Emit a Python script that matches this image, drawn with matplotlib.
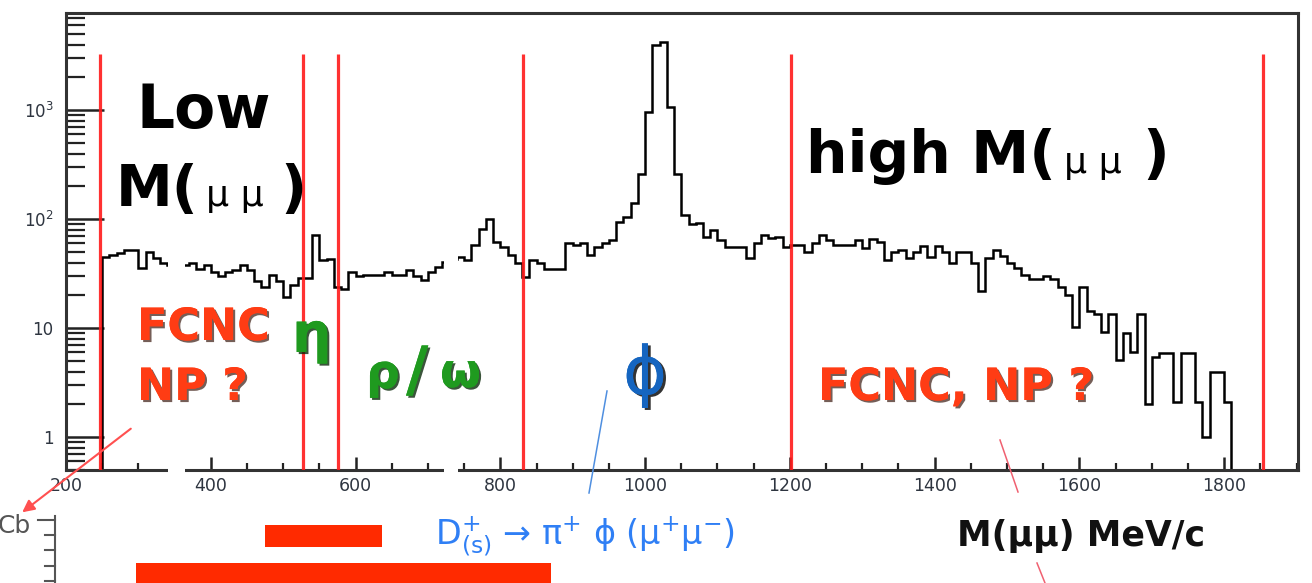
import numpy as np
import matplotlib.pyplot as plt
import matplotlib.patheffects as pe
from matplotlib.patches import Rectangle, FancyArrowPatch
from matplotlib.lines import Line2D
from matplotlib.ticker import MultipleLocator, LogLocator, NullFormatter

W, H = 1312, 583

# dimuon mass histogram, 10 MeV bins starting at 250 MeV
bin_start = 250
bin_width = 10
counts = [45, 47, 49, 52, 52, 36, 50, 44, 40, 38,
          38, 38, 40, 35, 38, 33, 30, 33, 34, 38,
          34, 27, 24, 31, 27, 19.5, 25, 29, 29, 71,
          42, 43, 24, 23, 33, 30, 31, 31, 31, 33,
          31, 31, 34, 30, 27.5, 33, 36.5, 40.5, 43, 45,
          42, 58, 81, 101, 62, 56, 47, 40, 29.6, 42,
          40, 35, 35, 35, 60, 58, 60, 47, 56, 60,
          64, 94, 105, 140, 262, 965, 3950, 4240, 1060, 262,
          109, 91, 92, 69, 79, 64, 56, 56, 56, 44,
          60, 71, 67, 69, 56, 58, 58, 50, 60, 71,
          64, 58, 58, 58, 64, 55, 66, 62, 42, 50,
          52, 44, 50, 57, 45, 57, 50, 40, 50, 50,
          40, 22, 44, 52, 46, 40, 36, 31, 28, 28,
          30, 28, 24, 20, 10.3, 24, 14.5, 13.6, 9.3, 13.4,
          5.1, 9, 6.1, 13.4, 2.0, 5.5, 5.9, 5.9, 2.1, 5.9,
          5.9, 2.1, 1.0, 4.0, 4.0, 2.1]

red_lines = [247, 528, 576, 831, 1202, 1853]
red_top = 3300
gaps = [(341, 365), (722, 741)]

xticks = [200, 400, 600, 800, 1000, 1200, 1400, 1600, 1800]
yticks = [1, 10, 100, 1000]
ylabels = ['1', '10', '$10^2$', '$10^3$']

edges = bin_start + bin_width * np.arange(len(counts) + 1)

red = '#ff3c14'
green = '#1f9a1f'
shadow = [pe.withSimplePatchShadow(offset=(1.5, -1.5), shadow_rgbFace='#3a1a10', alpha=0.7), pe.Normal()]
gshadow = [pe.withSimplePatchShadow(offset=(1.5, -1.5), shadow_rgbFace='#0a2a0a', alpha=0.8), pe.Normal()]

fig = plt.figure(figsize=(W / 100, H / 100), dpi=100)
ax = fig.add_axes([66 / W, 1 - 470 / H, (1298 - 66) / W, (470 - 13) / H])
ax.set_yscale('log')
ax.set_xlim(200, 1902)
ax.set_ylim(0.5, 7800)

ax.stairs(counts, edges, baseline=1e-3, edgecolor='black', lw=1.8, zorder=2)
ax.vlines(red_lines, 0.5, red_top, colors='#ff1a1a', lw=2.3, alpha=0.9, zorder=4)

# white breaks in the original slide
for a, b in gaps:
    ax.add_patch(Rectangle((a, -0.02), b - a, 0.55, transform=ax.get_xaxis_transform(),
                           fc='white', ec='none', zorder=3, clip_on=False))

ax.set_xticks(xticks)
ax.xaxis.set_minor_locator(MultipleLocator(50))
ax.set_yticks(yticks, ylabels)
ax.yaxis.set_minor_locator(LogLocator(base=10, subs=np.arange(2, 10)))
ax.yaxis.set_minor_formatter(NullFormatter())
ax.tick_params(axis='x', which='major', direction='in', length=9.5, width=1.8, pad=5,
               labelsize=12.5, labelcolor='#2e3540', color='#222')
ax.tick_params(axis='x', which='minor', direction='in', length=5, width=1.6, color='#222')
ax.tick_params(axis='y', which='major', direction='in', length=27, width=1.8, pad=9,
               labelsize=12, labelcolor='#2e3540', color='#222')
ax.tick_params(axis='y', which='minor', direction='in', length=14, width=1.6, color='#222')
for s in ax.spines.values():
    s.set_linewidth(2.2)
    s.set_color('#333333')


def put(px, py, s, **kw):
    return fig.text(px / W, 1 - py / H, s, va='baseline', **kw)


# region labels
put(136, 128, 'Low', fontsize=43, fontweight='bold')
put(116, 206, 'M(', fontsize=41, fontweight='bold')
put(206, 206, 'μ μ', fontsize=26)
put(280, 206, ')', fontsize=41, fontweight='bold')

put(806, 173, 'high M(', fontsize=42, fontweight='bold')
put(1064, 173, 'μ μ', fontsize=26)
put(1142, 173, ')', fontsize=42, fontweight='bold')

put(137, 340, 'FCNC', fontsize=32, fontweight='bold', color=red, path_effects=shadow)
put(137, 400, 'NP ?', fontsize=32, fontweight='bold', color=red, path_effects=shadow)
put(818, 400, 'FCNC, NP ?', fontsize=32, fontweight='bold', color=red, path_effects=shadow)

put(292, 352, 'η', fontsize=40, fontweight='bold', color=green, path_effects=gshadow)
put(366, 388, 'ρ', fontsize=34, fontweight='bold', color=green, path_effects=gshadow)
put(406, 390, '/', fontsize=44, fontweight='bold', color=green, path_effects=gshadow)
put(440, 387, 'ω', fontsize=34, fontweight='bold', color=green, path_effects=gshadow)
fig.text(645 / W, 1 - 394 / H, 'ϕ', fontsize=48, color='#1565c0', ha='center', va='baseline',
         path_effects=[pe.withSimplePatchShadow(offset=(2, -1.5), shadow_rgbFace='black', alpha=0.8), pe.Normal()])

put(435, 545, r'D$^{+}_{\mathrm{(s)}}$ → π$^{+}$ ϕ (μ$^{+}$μ$^{-}$)', fontsize=24, color='#2f7ff5')
put(957, 546, 'M(μμ) MeV/c', fontsize=25, fontweight='bold', color='#111111')

# fragment of the panel below
put(-2, 533, 'Cb', fontsize=18, color='#555555')
fig.add_artist(Line2D([55 / W, 55 / W], [1 - 516 / H, 0], color='#555555', lw=1.5))
for ty, tl in [(520, 17), (535, 10), (550, 10), (566, 10), (581, 10)]:
    fig.add_artist(Line2D([(55 - tl) / W, 55 / W], [1 - ty / H, 1 - ty / H], color='#555555', lw=1.5))

# pointer lines
fig.add_artist(FancyArrowPatch((133 / W, 1 - 427 / H), (20 / W, 1 - 514 / H), transform=fig.transFigure,
                               arrowstyle='-|>', mutation_scale=18, color='#ff5050', lw=1.5))
fig.add_artist(Line2D([607 / W, 589 / W], [1 - 391 / H, 1 - 493 / H], color='#4f8fe0', lw=1.1))
fig.add_artist(Line2D([1000 / W, 1018 / W], [1 - 440 / H, 1 - 492 / H], color='#f06070', lw=1.1))
fig.add_artist(Line2D([1037 / W, 1045 / W], [1 - 563 / H, 1 - 583 / H], color='#f06070', lw=1.1))

# scribbled-out text
fig.add_artist(Rectangle((265 / W, 1 - 547 / H), 117 / W, 22 / H, transform=fig.transFigure,
                         fc='#ff2a00', ec='none'))
fig.add_artist(Rectangle((136 / W, 0), 415 / W, 20 / H, transform=fig.transFigure,
                         fc='#ff2a00', ec='none'))

fig.savefig('out.png', dpi=100)
